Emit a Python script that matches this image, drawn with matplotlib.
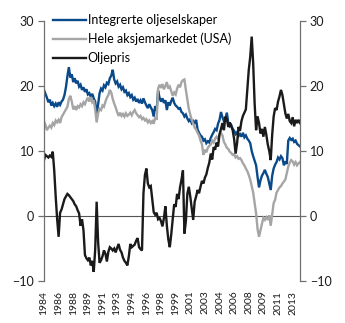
import numpy as np
import matplotlib
matplotlib.use("Agg")
import matplotlib.pyplot as plt

plt.rcParams['font.family'] = ['Lato', 'DejaVu Sans']

# every second month, from Dec 1984
start_year = 1984 + 11 / 12
step = 1 / 6

integrerte = [
    19.4, 18.8, 18.2, 17.5, 17.9, 17.0, 17.4, 16.9, 17.3, 16.8,
    17.5, 17.1, 17.6, 17.9, 18.6, 19.8, 21.5, 22.9, 21.3, 21.8,
    20.6, 21.2, 20.4, 20.8, 19.9, 20.2, 19.4, 19.8, 19.1, 19.5,
    18.7, 18.9, 18.3, 18.8, 18.1, 17.6, 15.4, 17.2, 18.9, 19.6,
    19.3, 20.1, 19.8, 20.5, 20.3, 21.2, 21.6, 22.5, 21.0, 20.4,
    20.7, 19.9, 20.2, 19.5, 19.8, 19.1, 19.3, 18.6, 18.9, 18.3,
    18.6, 17.9, 18.2, 17.6, 18.0, 17.4, 17.8, 17.3, 18.1, 17.5,
    17.0, 16.6, 17.2, 16.7, 16.3, 15.3, 16.9, 16.2, 19.3, 18.2,
    17.6, 18.1, 17.4, 17.8, 16.3, 17.5, 17.0, 17.7, 18.2, 17.4,
    17.0, 16.8, 16.5, 16.6, 16.0, 15.8, 15.3, 15.6, 15.0, 14.6,
    14.9, 14.3, 14.6, 14.2, 14.8, 13.3, 12.8, 12.4, 12.2, 11.6,
    11.8, 11.2, 11.5, 11.3, 12.0, 12.5, 12.9, 13.4, 13.2, 14.2,
    14.8, 16.0, 15.2, 14.6, 14.9, 15.9, 14.3, 13.8, 14.0, 13.4,
    13.1, 12.6, 12.9, 12.3, 12.6, 12.2, 12.8, 12.1, 12.4, 11.9,
    11.6, 11.2, 10.0, 9.2, 8.5, 7.8, 6.0, 4.4, 5.5, 6.2,
    6.6, 7.1, 6.5, 6.0, 5.0, 4.0, 6.2, 7.3, 7.9, 8.3,
    9.0, 8.7, 9.2, 8.9, 7.8, 8.4, 8.0, 11.6, 12.0, 11.7,
    11.9, 11.4, 11.6, 11.1, 10.9, 10.7,
]

aksjemarkedet = [
    14.6, 14.0, 13.2, 13.6, 13.9, 13.6, 14.3, 14.0, 14.7, 14.4,
    14.8, 14.3, 15.2, 15.6, 16.0, 16.4, 16.8, 18.0, 18.5, 17.6,
    16.4, 16.9, 16.3, 16.9, 16.7, 17.2, 16.9, 17.5, 17.2, 17.8,
    18.2, 17.6, 18.3, 17.5, 17.8, 16.4, 14.4, 15.8, 16.5, 16.3,
    17.0, 16.8, 17.6, 18.2, 18.6, 19.4, 19.0, 18.0, 17.3, 16.7,
    16.0, 15.4, 15.9, 15.4, 15.7, 15.3, 15.8, 15.4, 15.6, 15.9,
    15.5, 16.0, 16.3, 15.8, 15.5, 15.2, 15.4, 14.9, 15.1, 14.7,
    14.9, 14.4, 14.7, 14.3, 14.6, 14.2, 15.2, 14.8, 19.6, 20.2,
    19.7, 20.3, 19.5, 20.0, 20.6, 19.6, 19.9, 19.2, 18.5, 19.0,
    18.7, 19.6, 20.2, 19.8, 20.6, 20.9, 21.0, 19.4, 18.0, 16.5,
    15.6, 14.8, 14.2, 13.6, 13.3, 12.8, 12.4, 11.6, 11.0, 9.4,
    10.2, 9.8, 10.5, 10.8, 11.0, 11.6, 11.3, 11.9, 12.2, 11.8,
    12.5, 12.8, 12.4, 11.4, 11.0, 10.5, 10.3, 9.9, 9.7, 9.4,
    9.5, 9.0, 9.2, 8.8, 8.9, 8.6, 8.1, 7.8, 7.3, 6.9,
    6.3, 5.6, 4.6, 3.6, 2.0, 0.4, -2.0, -3.2, -2.2, -1.2,
    -0.3, -0.6, -0.2, -0.6, 0.1, -1.5, 0.3, 2.0, 2.5, 3.6,
    4.0, 4.4, 4.6, 5.0, 5.3, 5.6, 6.6, 7.6, 8.2, 8.6,
    8.4, 7.9, 8.3, 7.8, 8.1, 8.3,
]

oljepris = [
    8.6, 9.4, 9.2, 9.0, 9.3, 9.1, 9.9, 7.0, 3.0, -0.5,
    -3.2, 0.5, 1.0, 1.8, 2.6, 3.0, 3.4, 3.2, 2.9, 2.6,
    2.3, 1.8, 1.5, 0.9, 0.4, -1.5, -0.5, -2.2, -6.0, -6.5,
    -6.8, -6.4, -7.6, -6.9, -8.6, -5.2, 2.2, -4.0, -7.2, -6.8,
    -6.2, -5.3, -5.8, -7.0, -5.5, -4.8, -5.0, -5.3, -5.0, -5.6,
    -4.9, -4.3, -5.2, -5.6, -6.4, -6.9, -7.2, -7.6, -6.2, -4.3,
    -4.8, -4.6, -4.4, -3.8, -3.4, -4.8, -5.1, -5.3, 3.5, 6.3,
    7.3, 5.0, 4.4, 4.6, 2.6, 0.6, 0.2, 0.5, -0.5, -0.3,
    -0.8, -1.6, -0.3, 1.5, -1.5, -3.6, -4.8, -2.8, -0.5, 1.8,
    1.4, 3.4, 2.6, 4.4, 5.6, 7.0, -2.7, -0.8, 3.4, 4.5,
    3.0, 1.2, -0.6, 2.2, 3.0, 4.0, 3.5, 4.5, 5.4, 5.0,
    5.9, 6.4, 7.4, 8.2, 9.6, 8.7, 10.6, 10.2, 11.3, 10.7,
    12.6, 13.4, 14.3, 13.2, 15.3, 14.9, 13.7, 14.4, 13.8, 13.2,
    11.8, 9.6, 11.2, 13.7, 13.1, 14.6, 15.4, 15.9, 16.4, 19.5,
    22.5, 24.5, 27.6, 23.5, 17.3, 13.2, 15.3, 14.3, 12.7, 13.4,
    12.2, 13.7, 12.5, 11.0, 10.0, 8.6, 12.5, 15.3, 16.6, 16.3,
    17.6, 18.4, 19.4, 18.6, 17.2, 15.8, 15.0, 15.7, 14.6, 14.3,
    15.2, 13.8, 14.8, 14.3, 14.8, 14.3,
]

labels = ["Integrerte oljeselskaper", "Hele aksjemarkedet (USA)", "Oljepris"]
colors = ["#0a4a8a", "#a5a5a5", "#1a1a1a"]

t = start_year + step * np.arange(len(integrerte))
ticks = start_year + np.arange(18) * 20 / 12
tick_labels = [str(int(v + 1e-6)) for v in ticks]

fig = plt.figure(figsize=(3.45, 3.23), dpi=100)
ax = fig.add_axes([0.1275, 0.130, 0.742, 0.805])

for y, lab, c in zip([integrerte, aksjemarkedet, oljepris], labels, colors):
    ax.plot(t, y, color=c, lw=1.7, label=lab, solid_joinstyle='miter')

ax.axhline(0, color="#555555", lw=0.8, zorder=0)
ax.set_xlim(t[0], t[-1])
ax.set_ylim(-10, 30)
ax.set_yticks([-10, 0, 10, 20, 30])
ax.set_xticks(ticks)
ax.set_xticklabels(tick_labels, rotation=90)

for s in ["top", "bottom"]:
    ax.spines[s].set_visible(False)
for s in ["left", "right"]:
    ax.spines[s].set_color("#707070")
    ax.spines[s].set_linewidth(0.9)

ax.tick_params(axis="y", which="both", left=True, right=True,
               labelleft=True, labelright=True, direction="out",
               length=4, width=0.9, color="#707070", labelsize=9,
               labelcolor="#1a1a1a", pad=3)
ax.tick_params(axis="x", length=0, labelsize=7.5, pad=7, labelcolor="#1a1a1a")

fig.legend(loc="upper left", bbox_to_anchor=(0.155, 0.957), frameon=False,
           fontsize=9, handlelength=2.6, handletextpad=0.15,
           labelspacing=0.55, borderpad=0, borderaxespad=0)

fig.savefig("out.png", dpi=100)
